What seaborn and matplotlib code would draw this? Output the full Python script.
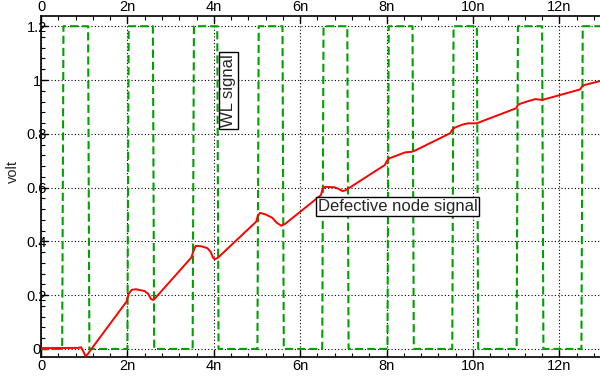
import matplotlib
matplotlib.use("Agg")
import matplotlib.pyplot as plt
from matplotlib.ticker import MultipleLocator
import pandas as pd
import seaborn as sns

# Word-line pulse edges (ns) and levels (V)
wl_rise = [0.49, 2.00, 3.51, 5.01, 6.51, 8.02, 9.52, 11.01, 12.51]
wl_fall = [1.09, 2.59, 4.08, 5.59, 7.09, 8.60, 10.09, 11.60]
wl_low = 0.0
wl_high = 1.2
t_end = 12.94

# Defective node voltage (time in ns, volts)
node_t = [0.00, 0.85, 0.93, 0.98, 1.03, 1.08, 1.13, 1.98, 2.03, 2.10, 2.20, 2.40,
          2.48, 2.55, 2.60, 2.65, 3.48, 3.52, 3.58, 3.70, 3.85, 3.93, 3.98, 4.02,
          4.10, 4.98, 5.02, 5.07, 5.20, 5.35, 5.46, 5.56, 5.65, 6.48, 6.52, 6.58,
          6.80, 6.90, 6.98, 7.05, 7.96, 8.00, 8.05, 8.25, 8.43, 8.58, 8.65, 9.47,
          9.52, 9.58, 9.75, 9.89, 10.09, 10.15, 11.00, 11.03, 11.08, 11.25, 11.44,
          11.60, 11.65, 12.48, 12.52, 12.57, 12.94]
node_v = [0.003, 0.004, 0.006, -0.010, -0.026, -0.020, -0.008, 0.176, 0.205, 0.220,
          0.222, 0.215, 0.205, 0.185, 0.182, 0.190, 0.340, 0.360, 0.383, 0.382,
          0.375, 0.360, 0.340, 0.333, 0.340, 0.473, 0.495, 0.506, 0.500, 0.488,
          0.469, 0.458, 0.465, 0.572, 0.595, 0.603, 0.601, 0.594, 0.587, 0.590,
          0.684, 0.697, 0.708, 0.720, 0.731, 0.733, 0.737, 0.802, 0.815, 0.823,
          0.834, 0.839, 0.839, 0.843, 0.895, 0.905, 0.911, 0.920, 0.929, 0.926,
          0.928, 0.965, 0.975, 0.981, 0.996]

x_ticks = [0, 2, 4, 6, 8, 10, 12]
x_labels = ["0", "2n", "4n", "6n", "8n", "10n", "12n"]
y_ticks = [0.0, 0.2, 0.4, 0.6, 0.8, 1.0, 1.2]
y_labels = ["0", "0.2", "0.4", "0.6", "0.8", "1", "1.2"]

# Build the word-line waveform vertices from its edge times
edge_dur = 0.03
edges = sorted([(t, wl_high) for t in wl_rise] + [(t, wl_low) for t in wl_fall])
wl_t, wl_v = [0.0], [wl_low]
level = wl_low
for t, new_level in edges:
    wl_t += [t, t + edge_dur]
    wl_v += [level, new_level]
    level = new_level
wl_t.append(t_end)
wl_v.append(level)

wl_df = pd.DataFrame({"t": wl_t, "v": wl_v})
node_df = pd.DataFrame({"t": node_t, "v": node_v})

sns.set_style("white")
plt.rcParams["font.family"] = ["Liberation Sans", "DejaVu Sans"]

fig = plt.figure(figsize=(6.0, 3.76), dpi=100)
ax = fig.add_axes([41 / 600, 19 / 376, 1 - 41 / 600, 341 / 376])

sns.lineplot(data=wl_df, x="t", y="v", ax=ax, color="#00a000", linewidth=1.5,
             linestyle=(0, (3.9, 1.9)), estimator=None, sort=False, zorder=3)
sns.lineplot(data=node_df, x="t", y="v", ax=ax, color="#ff0000", linewidth=1.4,
             estimator=None, sort=False, zorder=4)

ax.set_xlim(0, t_end)
ax.set_ylim(-0.03, 1.238)
ax.set_xticks(x_ticks, x_labels)
ax.set_yticks(y_ticks, y_labels)
ax.xaxis.set_minor_locator(MultipleLocator(0.4))
ax.yaxis.set_minor_locator(MultipleLocator(0.04))

ax.grid(True, which="major", color="black", linestyle=(0, (1, 2)), linewidth=0.8)
ax.set_axisbelow(True)

ax.tick_params(which="both", direction="in", top=True, bottom=True, left=True,
               right=False, labeltop=True, labelbottom=True, colors="black",
               labelsize=10.5)
ax.tick_params(which="major", length=5, width=1)
ax.tick_params(which="minor", length=3, width=0.8)
ax.tick_params(axis="x", pad=1.5)
ax.tick_params(axis="y", pad=3.2)
plt.setp(ax.get_yticklabels(), ha="center")

for side in ("left", "top", "bottom"):
    ax.spines[side].set_color("black")
    ax.spines[side].set_linewidth(1.2)
ax.spines["right"].set_visible(False)

ax.set_xlabel("")
ax.set_ylabel("volt", fontsize=10.5)
ax.yaxis.set_label_coords(-0.038, 0.543)

box = dict(boxstyle="square,pad=0.12", fc="white", ec="black", lw=1)
ax.text(4.35, 0.96, "WL signal", rotation=90, ha="center", va="center",
        fontsize=12, bbox=box, zorder=5)
ax.text(8.25, 0.528, "Defective node signal", ha="center", va="center",
        fontsize=12, bbox=box, zorder=5)

fig.savefig("out.png", dpi=100)
